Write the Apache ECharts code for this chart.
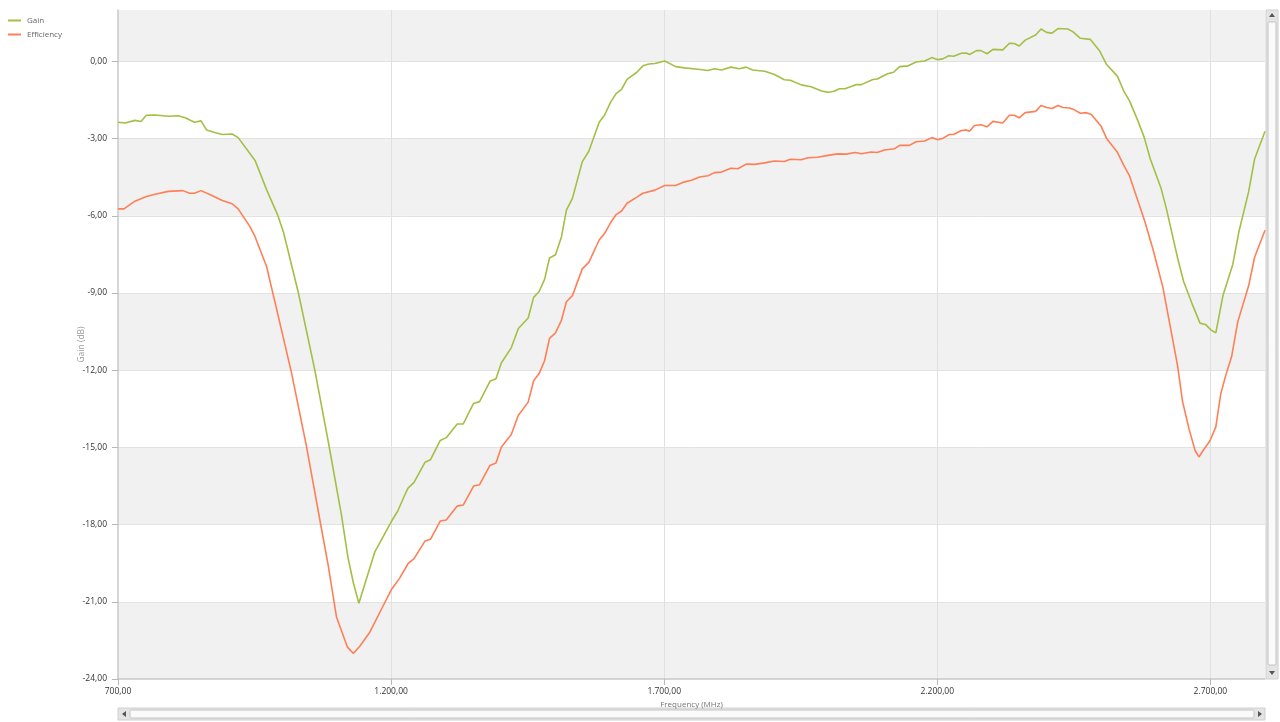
<!DOCTYPE html>
<html>
<head>
<meta charset="utf-8">
<script src="https://cdn.jsdelivr.net/npm/echarts@6/dist/echarts.min.js"></script>
<style>
html,body{margin:0;padding:0;background:#fff;}
#chart{width:1280px;height:722px;}
</style>
</head>
<body>
<div id="chart"></div>
<script>
// ---- data ----
const seriesNames = ['Gain', 'Efficiency'];

const gainFreq = [700,713,731,742,752,768,792,810,823,840,852,862,877,891,909,920,951,972,992,1003,1030,1060,1085,1109,1121,1131,1141,1170,1201,1212,1225,1231,1242,1262,1272,1290,1301,1321,1332,1351,1362,1381,1392,1402,1420,1433,1451,1461,1471,1481,1490,1501,1512,1521,1532,1550,1562,1581,1591,1602,1612,1622,1632,1650,1661,1672,1683,1701,1721,1737,1762,1780,1792,1805,1822,1838,1850,1862,1884,1901,1920,1931,1951,1969,1988,2001,2011,2021,2031,2052,2061,2082,2090,2109,2120,2131,2147,2161,2177,2190,2201,2210,2221,2230,2244,2253,2259,2272,2280,2291,2302,2320,2332,2341,2350,2361,2380,2390,2400,2410,2421,2439,2448,2462,2480,2497,2510,2530,2541,2552,2567,2579,2590,2610,2619,2640,2651,2666,2681,2691,2701,2710,2723,2741,2752,2770,2781,2800];
const gainValues = [-2.36,-2.39,-2.29,-2.33,-2.09,-2.08,-2.13,-2.11,-2.19,-2.36,-2.31,-2.66,-2.76,-2.84,-2.82,-2.96,-3.85,-4.98,-5.95,-6.64,-8.97,-11.96,-14.78,-17.61,-19.27,-20.27,-21.06,-19.07,-17.86,-17.48,-16.85,-16.58,-16.36,-15.58,-15.48,-14.73,-14.62,-14.09,-14.09,-13.29,-13.22,-12.43,-12.33,-11.71,-11.13,-10.38,-9.97,-9.17,-8.94,-8.47,-7.64,-7.51,-6.81,-5.78,-5.32,-3.90,-3.49,-2.36,-2.08,-1.58,-1.25,-1.08,-0.70,-0.42,-0.17,-0.10,-0.08,0.02,-0.20,-0.25,-0.30,-0.35,-0.28,-0.33,-0.22,-0.28,-0.22,-0.33,-0.38,-0.50,-0.71,-0.73,-0.91,-0.98,-1.15,-1.20,-1.16,-1.06,-1.06,-0.90,-0.90,-0.70,-0.68,-0.48,-0.42,-0.20,-0.17,-0.02,0.02,0.15,0.07,0.10,0.22,0.20,0.32,0.33,0.27,0.42,0.42,0.30,0.47,0.45,0.71,0.70,0.60,0.83,1.03,1.26,1.13,1.10,1.28,1.26,1.16,0.90,0.86,0.42,-0.12,-0.58,-1.13,-1.53,-2.29,-2.96,-3.79,-4.95,-5.68,-7.64,-8.55,-9.39,-10.17,-10.22,-10.43,-10.55,-9.10,-7.89,-6.64,-5.07,-3.79,-2.71];

const effFreq = [700,711,731,752,770,792,819,831,840,852,871,891,909,920,941,951,972,996,1018,1045,1067,1085,1100,1120,1131,1143,1161,1183,1201,1216,1231,1242,1262,1272,1290,1301,1321,1332,1351,1362,1381,1392,1402,1420,1433,1451,1461,1471,1481,1490,1501,1512,1521,1532,1550,1562,1581,1591,1602,1612,1622,1632,1650,1661,1683,1701,1721,1734,1750,1765,1780,1792,1805,1822,1835,1850,1866,1884,1902,1920,1931,1951,1963,1981,2000,2018,2033,2050,2061,2079,2090,2103,2122,2131,2149,2161,2177,2190,2201,2210,2222,2230,2243,2253,2259,2268,2280,2291,2302,2320,2332,2341,2350,2361,2380,2390,2400,2410,2421,2430,2442,2451,2462,2473,2482,2500,2510,2530,2541,2552,2579,2595,2613,2625,2640,2649,2661,2672,2679,2688,2699,2710,2719,2728,2739,2750,2770,2781,2800];
const effValues = [-5.73,-5.73,-5.43,-5.25,-5.15,-5.05,-5.02,-5.12,-5.12,-5.02,-5.20,-5.40,-5.53,-5.73,-6.40,-6.81,-7.97,-10.13,-12.13,-14.95,-17.52,-19.60,-21.59,-22.76,-23.01,-22.72,-22.18,-21.26,-20.51,-20.07,-19.52,-19.32,-18.64,-18.57,-17.86,-17.82,-17.28,-17.24,-16.50,-16.45,-15.70,-15.61,-14.98,-14.50,-13.75,-13.24,-12.41,-12.13,-11.63,-10.76,-10.55,-10.05,-9.34,-9.10,-8.06,-7.81,-6.94,-6.68,-6.26,-5.95,-5.81,-5.51,-5.27,-5.12,-5.00,-4.82,-4.82,-4.70,-4.62,-4.49,-4.44,-4.32,-4.30,-4.15,-4.17,-3.99,-4.00,-3.94,-3.87,-3.89,-3.80,-3.82,-3.74,-3.72,-3.65,-3.59,-3.60,-3.54,-3.59,-3.52,-3.54,-3.44,-3.39,-3.26,-3.26,-3.12,-3.09,-2.96,-3.04,-2.99,-2.84,-2.84,-2.69,-2.66,-2.71,-2.49,-2.46,-2.54,-2.33,-2.39,-2.09,-2.09,-2.19,-1.99,-1.94,-1.71,-1.79,-1.83,-1.71,-1.79,-1.81,-1.88,-2.01,-1.99,-2.06,-2.52,-2.99,-3.54,-4.02,-4.45,-6.15,-7.31,-8.77,-10.13,-11.83,-13.21,-14.29,-15.12,-15.37,-15.08,-14.75,-14.20,-12.92,-12.21,-11.46,-10.13,-8.72,-7.61,-6.56];

const xTicks = [700, 1200, 1700, 2200, 2700];
const yTicks = [-24, -21, -18, -15, -12, -9, -6, -3, 0];
const xAxisName = 'Frequency (MHz)';
const yAxisName = 'Gain (dB)';

// ---- helpers ----
function fmt(v) {
  const neg = v < 0;
  const s = Math.abs(v).toFixed(2);
  let [ip, dp] = s.split('.');
  ip = ip.replace(/\B(?=(\d{3})+(?!\d))/g, '.');
  return (neg ? '-' : '') + ip + ',' + dp;
}
function zip(a, b) { return a.map((x, i) => [x, b[i]]); }

const chart = echarts.init(document.getElementById('chart'), null, {renderer: 'canvas'});
const FONT = '"Open Sans", "Noto Sans", sans-serif';

const gLeft = 118, gRight = 1265, gTop = 10, gBottom = 679;

const option = {
  animation: false,
  backgroundColor: '#ffffff',
  color: ['#a3bf45', '#ff7f56'],
  textStyle: {fontFamily: FONT},
  legend: {
    orient: 'vertical',
    left: 8, top: 15, padding: 0,
    itemWidth: 13, itemHeight: 2, itemGap: 3,
    icon: 'rect',
    textStyle: {fontSize: 8, lineHeight: 11, color: '#666', fontFamily: FONT, padding: [0, 0, 0, 1]},
    data: seriesNames
  },
  grid: {left: gLeft, right: 1280 - gRight, top: gTop, bottom: 722 - gBottom, containLabel: false},
  xAxis: {
    type: 'value',
    min: xTicks[0], max: 2800, interval: xTicks[1] - xTicks[0],
    name: xAxisName, nameLocation: 'middle', nameGap: 22, nameMoveOverlap: false,
    nameTextStyle: {fontSize: 8, color: '#777', fontFamily: FONT},
    axisLine: {show: true, onZero: false, lineStyle: {color: '#c8c8c8', width: 1.5}},
    axisTick: {show: true, length: 6, lineStyle: {color: '#b8b8b8'}},
    axisLabel: {
      fontSize: 8.5, color: '#333', margin: 8, fontFamily: FONT,
      showMaxLabel: false,
      formatter: v => xTicks.includes(v) ? fmt(v) : ''
    },
    splitLine: {show: true, showMinLine: false, showMaxLine: false, lineStyle: {color: '#e0e0e0', width: 1}}
  },
  yAxis: {
    type: 'value',
    min: yTicks[0], max: 2, interval: 3,
    name: yAxisName, nameLocation: 'middle', nameGap: 32, nameRotate: 90, nameMoveOverlap: false,
    nameTextStyle: {fontSize: 8.5, color: '#9a9a9a', fontFamily: FONT},
    axisLine: {show: true, onZero: false, lineStyle: {color: '#c8c8c8', width: 1.5}},
    axisTick: {show: true, length: 6, lineStyle: {color: '#b8b8b8'}},
    axisLabel: {
      fontSize: 8.5, color: '#333', margin: 11, fontFamily: FONT,
      showMaxLabel: false,
      formatter: v => yTicks.includes(v) ? fmt(v) : ''
    },
    splitLine: {show: true, showMaxLine: false, showMinLine: false, lineStyle: {color: '#e2e2e2', width: 1}},
    splitArea: {show: true, areaStyle: {color: ['#f1f1f1', '#ffffff']}}
  },
  series: [
    {
      name: seriesNames[0], type: 'line', showSymbol: false, symbol: 'none',
      lineStyle: {width: 1.6, color: '#a3bf45'},
      data: zip(gainFreq, gainValues)
    },
    {
      name: seriesNames[1], type: 'line', showSymbol: false, symbol: 'none',
      lineStyle: {width: 1.6, color: '#ff7f56'},
      data: zip(effFreq, effValues)
    }
  ],
  graphic: [
    {type: 'rect', shape: {x: 1266, y: 10, width: 12, height: 669}, style: {fill: '#e4e4e4', stroke: '#d0d0d0', lineWidth: 1}, silent: true},
    {type: 'rect', shape: {x: 1268, y: 22, width: 8, height: 643, r: 1}, style: {fill: '#fafafa', stroke: '#c4c4c4', lineWidth: 1}, silent: true},
    {type: 'polygon', shape: {points: [[1269, 17], [1275, 17], [1272, 13]]}, style: {fill: '#555'}, silent: true},
    {type: 'polygon', shape: {points: [[1269, 671], [1275, 671], [1272, 675]]}, style: {fill: '#555'}, silent: true},
    {type: 'rect', shape: {x: 118, y: 708, width: 1147, height: 12}, style: {fill: '#e4e4e4', stroke: '#d0d0d0', lineWidth: 1}, silent: true},
    {type: 'rect', shape: {x: 130, y: 710, width: 1124, height: 8, r: 1}, style: {fill: '#fafafa', stroke: '#c4c4c4', lineWidth: 1}, silent: true},
    {type: 'polygon', shape: {points: [[126, 711], [126, 717], [122, 714]]}, style: {fill: '#555'}, silent: true},
    {type: 'polygon', shape: {points: [[1258, 711], [1258, 717], [1262, 714]]}, style: {fill: '#555'}, silent: true}
  ]
};
chart.setOption(option);
</script>
</body>
</html>
